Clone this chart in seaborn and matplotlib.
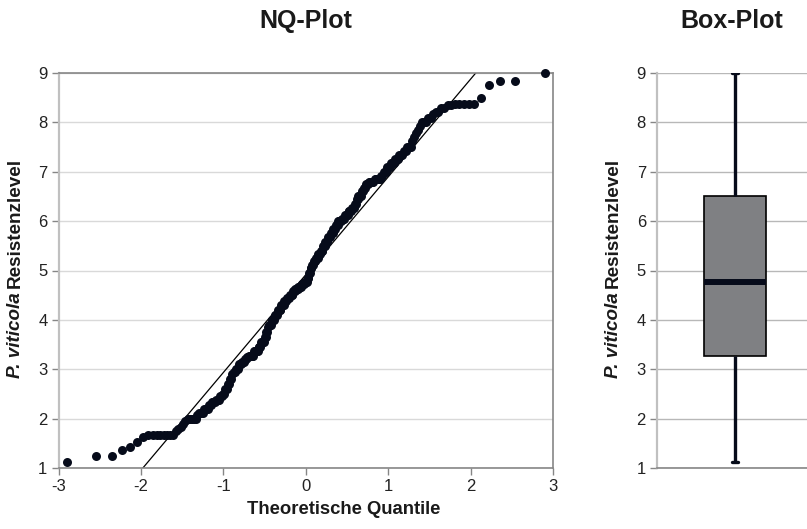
from statistics import NormalDist

import numpy as np
import matplotlib
matplotlib.use("Agg")
import matplotlib.pyplot as plt
import seaborn as sns

LEVELS = [1.12, 1.25, 1.36, 1.42, 1.53, 1.62, 1.67, 1.75, 1.79, 1.83, 1.9, 1.95,
          2.0, 2.08, 2.12, 2.2, 2.28, 2.33, 2.38, 2.45, 2.5, 2.6, 2.7, 2.8, 2.9, 2.95,
          3.0, 3.1, 3.15, 3.2, 3.25, 3.27, 3.37, 3.45, 3.55, 3.65, 3.75, 3.85, 3.9,
          4.0, 4.1, 4.2, 4.3, 4.38, 4.45, 4.5, 4.58, 4.62, 4.67, 4.72, 4.76, 4.85, 4.95,
          5.05, 5.12, 5.2, 5.25, 5.33, 5.4, 5.5, 5.58, 5.67, 5.75, 5.85, 5.92,
          6.0, 6.05, 6.12, 6.2, 6.27, 6.35, 6.45, 6.5, 6.62, 6.67, 6.75, 6.8, 6.85, 6.92,
          7.0, 7.1, 7.17, 7.25, 7.33, 7.42, 7.5, 7.62, 7.7, 7.78, 7.85, 7.92,
          8.0, 8.08, 8.17, 8.22, 8.3, 8.35, 8.38, 8.5, 8.75, 8.83, 9.0]
COUNTS = [1, 2, 1, 1, 1, 1, 8, 1, 1, 1, 1, 1,
          5, 1, 3, 3, 2, 3, 3, 2, 2, 2, 2, 2, 1, 2,
          3, 3, 3, 2, 2, 5, 5, 3, 4, 2, 2, 1, 3,
          4, 4, 4, 4, 3, 4, 4, 3, 4, 4, 4, 4, 2, 2,
          2, 2, 3, 3, 3, 3, 3, 3, 4, 3, 3, 3,
          4, 4, 4, 4, 3, 2, 2, 4, 2, 2, 3, 5, 6, 2,
          3, 3, 3, 3, 3, 2, 3, 1, 1, 1, 1, 1,
          3, 2, 1, 2, 2, 2, 5, 1, 1, 2, 1]

Y_TICKS = [1, 2, 3, 4, 5, 6, 7, 8, 9]
X_TICKS = [-3, -2, -1, 0, 1, 2, 3]
Y_LABEL_IT = "P. viticola"
Y_LABEL_REST = "Resistenzlevel"

values = np.repeat(LEVELS, COUNTS)
n = len(values)
# theoretical normal quantiles, plotting position (i - 0.5) / n
theo = np.array([NormalDist().inv_cdf((i - 0.5) / n) for i in range(1, n + 1)])
# linear trend line through the NQ points
slope, intercept = np.polyfit(theo, values, 1)

sns.set_theme(style="white")
plt.rcParams["font.family"] = ["Liberation Sans", "DejaVu Sans"]
plt.rcParams["axes.unicode_minus"] = False

W, H = 807, 529
fig = plt.figure(figsize=(W / 100, H / 100), dpi=100)
ax1 = fig.add_axes([58.5 / W, 1 - 468 / H, (553 - 58.5) / W, (468 - 73) / H])
ax2 = fig.add_axes([657 / W, 1 - 468 / H, 156 / W, (468 - 73) / H])

DOT = "#060b1a"
TICK_C = "#868686"

# ---- NQ plot
xs = np.array([-3, 3])
ax1.plot(xs, intercept + slope * xs, color="black", lw=0.9, zorder=2)
sns.scatterplot(x=theo, y=values, ax=ax1, color=DOT, s=42, edgecolor=DOT,
                linewidth=0, zorder=3, clip_on=False)
ax1.set_xlim(-3, 3)
ax1.set_ylim(1, 9)
ax1.set_xticks(X_TICKS)
ax1.set_yticks(Y_TICKS)
ax1.grid(axis="y", color="#d9d9d9", lw=1)
ax1.set_axisbelow(True)
for side in ["top", "right", "bottom"]:
    ax1.spines[side].set_color(TICK_C)
    ax1.spines[side].set_linewidth(1.2)
ax1.spines["left"].set_color("#c0c0c0")
ax1.spines["left"].set_linewidth(1.6)

# ---- Box plot (min/max whiskers like the original)
sns.boxplot(y=values, ax=ax2, whis=(0, 100), width=0.4, color="#7f8083",
            linecolor="black", linewidth=1.2, fliersize=0, saturation=1,
            medianprops={"color": DOT, "linewidth": 4.3},
            whiskerprops={"color": DOT, "linewidth": 2.4},
            capprops={"color": DOT, "linewidth": 2.4})
for ln in ax2.lines:
    yd = np.asarray(ln.get_ydata(), dtype=float)
    if len(yd) == 2 and yd[0] == yd[1] and yd[0] in (values.min(), values.max()):
        ln.set_xdata([-0.022, 0.022])
ax2.set_xlim(-0.5, 0.5)
ax2.set_ylim(1, 9)
ax2.set_yticks(Y_TICKS)
ax2.set_xticks([])
ax2.set_ylabel("")
ax2.grid(axis="y", color="#b8b8b8", lw=1)
ax2.set_axisbelow(True)
ax2.spines["top"].set_visible(False)
ax2.spines["right"].set_visible(False)
ax2.spines["left"].set_color("#c0c0c0")
ax2.spines["left"].set_linewidth(1.6)
ax2.spines["bottom"].set_color(TICK_C)
ax2.spines["bottom"].set_linewidth(1.2)

for ax in (ax1, ax2):
    ax.tick_params(axis="both", direction="out", length=5, width=1, color=TICK_C,
                   labelsize=12, labelcolor="#222222", pad=3, left=True, bottom=True)
ax2.tick_params(axis="x", bottom=False)

# titles and axis labels
fig.text(306 / W, 1 - 21 / H, "NQ-Plot", ha="center", va="center",
         fontsize=18, fontweight="bold", color="#1a1a1a")
fig.text(732 / W, 1 - 21 / H, "Box-Plot", ha="center", va="center",
         fontsize=18, fontweight="bold", color="#1a1a1a")
fig.text(344 / W, 1 - 510 / H, "Theoretische Quantile", ha="center", va="center",
         fontsize=13.3, fontweight="bold", color="#1a1a1a")


def two_part_ylabel(x_px, center_px):
    """Rotated y label with an italic species name followed by plain bold text."""
    t1 = fig.text(x_px / W, 0, Y_LABEL_IT, rotation=90, ha="center", va="bottom",
                  fontsize=13.6, fontweight="bold", style="italic", color="#1a1a1a")
    t2 = fig.text(x_px / W, 0, Y_LABEL_REST, rotation=90, ha="center", va="bottom",
                  fontsize=13.6, fontweight="bold", color="#1a1a1a")
    r = fig.canvas.get_renderer()
    h1 = t1.get_window_extent(r).height
    h2 = t2.get_window_extent(r).height
    gap = 4
    start = center_px - (h1 + gap + h2) / 2
    t1.set_y(start / H)
    t2.set_y((start + h1 + gap) / H)


fig.canvas.draw()
two_part_ylabel(15, H - 268)
two_part_ylabel(613, H - 268)

fig.savefig("out.png", dpi=100)
